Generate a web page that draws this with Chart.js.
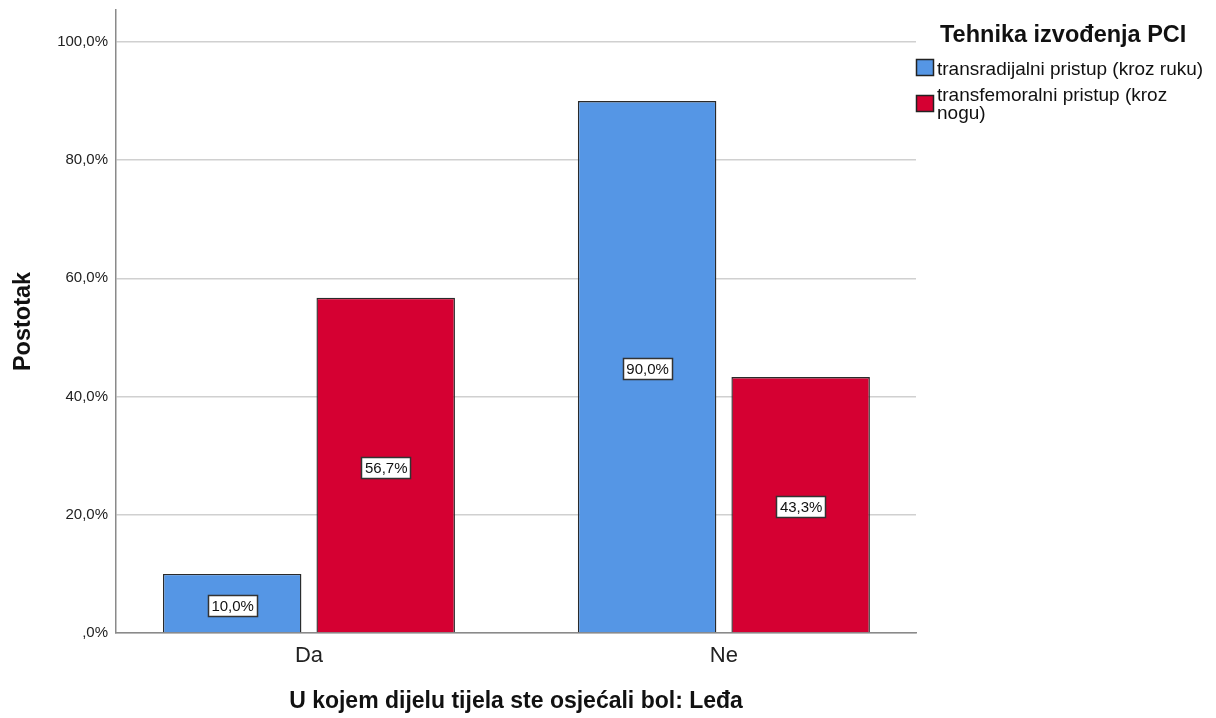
<!DOCTYPE html>
<html>
<head>
<meta charset="utf-8">
<script src="https://cdn.jsdelivr.net/npm/chart.js@4"></script>
<style>
  html, body { margin: 0; padding: 0; background: #fff; }
  #wrap { width: 1216px; height: 718px; }
</style>
</head>
<body>
<div id="wrap"><canvas id="chart" width="1216" height="718"></canvas></div>
<script>
const categories = ['Da', 'Ne'];
const seriesNames = ['transradijalni pristup (kroz ruku)', 'transfemoralni pristup (kroz nogu)'];
const radial = [10.0, 90.0];
const femoral = [56.7, 43.3];
const yTicks = [0, 20, 40, 60, 80, 100];
const colors = ['#5596e5', '#d50032'];

const FONT = '"Liberation Sans", Arial, sans-serif';
// SPSS style: 0 is written ",0%"
const fmt = v => (v === 0 ? ',0' : v.toFixed(1).replace('.', ',')) + '%';

// white boxed labels in the middle of each bar
const barLabels = {
  id: 'barLabels',
  afterDatasetsDraw(chart) {
    const ctx = chart.ctx;
    ctx.save();
    ctx.font = '15px ' + FONT;
    ctx.textAlign = 'center';
    ctx.textBaseline = 'middle';
    chart.data.datasets.forEach((ds, di) => {
      chart.getDatasetMeta(di).data.forEach((bar, i) => {
        const txt = fmt(ds.data[i].y);
        const y = (bar.y + bar.base) / 2 + 2;
        const w = Math.round(ctx.measureText(txt).width + 6);
        const h = 21;
        const x0 = Math.round(bar.x - w / 2), y0 = Math.round(y - h / 2);
        ctx.fillStyle = '#fff';
        ctx.fillRect(x0, y0, w, h);
        ctx.strokeStyle = '#333';
        ctx.lineWidth = 1.5;
        ctx.strokeRect(x0 + 0.5, y0 + 0.5, w, h);
        ctx.fillStyle = '#111';
        ctx.fillText(txt, bar.x + 0.5, y + 1.5);
      });
    });
    ctx.restore();
  }
};

// SPSS style legend on the right
const sideLegend = {
  id: 'sideLegend',
  afterDraw(chart) {
    const ctx = chart.ctx;
    ctx.save();
    ctx.fillStyle = '#111';
    ctx.font = 'bold 23.5px ' + FONT;
    ctx.textBaseline = 'alphabetic';
    ctx.fillText('Tehnika izvođenja PCI', 940, 42);
    ctx.font = '19px ' + FONT;
    const lines = [[seriesNames[0]], ['transfemoralni pristup (kroz', 'nogu)']];
    const boxY = [59, 95];
    const textY = [75, 101];
    lines.forEach((ls, i) => {
      ctx.fillStyle = colors[i];
      ctx.fillRect(916, boxY[i], 18, 17);
      ctx.strokeStyle = '#222';
      ctx.lineWidth = 1.5;
      ctx.strokeRect(916.5, boxY[i] + 0.5, 17, 16);
      ctx.fillStyle = '#111';
      ls.forEach((t, k) => ctx.fillText(t, 937, textY[i] + k * 18));
    });
    ctx.restore();
  }
};

new Chart(document.getElementById('chart'), {
  type: 'bar',
  data: {
    datasets: [
      { label: seriesNames[0], data: categories.map((c, i) => ({ x: i, y: radial[i] })),
        backgroundColor: colors[0], borderColor: '#2a2a2a', borderWidth: 1.4 },
      { label: seriesNames[1], data: categories.map((c, i) => ({ x: i, y: femoral[i] })),
        backgroundColor: colors[1], borderColor: '#2a2a2a', borderWidth: 1.4 }
    ]
  },
  options: {
    responsive: false,
    animation: false,
    layout: { padding: { left: 0, right: 300, top: 10, bottom: 0 } },
    datasets: { bar: { categoryPercentage: 0.74, barPercentage: 0.902 } },
    plugins: { legend: { display: false }, tooltip: { enabled: false } },
    scales: {
      x: {
        type: 'linear',
        offset: false,
        min: -0.465,
        max: 1.463,
        afterBuildTicks: s => { s.ticks = categories.map((c, i) => ({ value: i })); },
        afterFit: s => { s.height = 85; s.paddingLeft = 0; s.paddingRight = 0; },
        ticks: {
          callback: v => categories[v],
          font: { family: FONT, size: 22 },
          color: '#222',
          padding: 10
        },
        grid: { display: false, drawTicks: false },
        border: { color: '#8a8a8a', width: 1.5 },
        title: {
          display: true,
          text: 'U kojem dijelu tijela ste osjećali bol: Leđa',
          font: { family: FONT, size: 23, weight: 'bold' },
          color: '#111',
          padding: { top: 0, bottom: 3 }
        }
      },
      y: {
        min: 0,
        max: 105.4,
        afterBuildTicks: s => { s.ticks = yTicks.map(v => ({ value: v })); },
        afterFit: s => { s.width = 116; s.paddingTop = 0; s.paddingBottom = 0; },
        ticks: {
          callback: v => fmt(v),
          font: { family: FONT, size: 15 },
          color: '#222',
          padding: 8
        },
        grid: { color: '#d0d0d0', lineWidth: 1.5, drawTicks: false },
        border: { color: '#8a8a8a', width: 1.5 },
        title: {
          display: true,
          text: 'Postotak',
          font: { family: FONT, size: 23.5, weight: 'bold' },
          color: '#111',
          padding: { top: 9, bottom: 0 }
        }
      }
    }
  },
  plugins: [barLabels, sideLegend]
});
</script>
</body>
</html>
